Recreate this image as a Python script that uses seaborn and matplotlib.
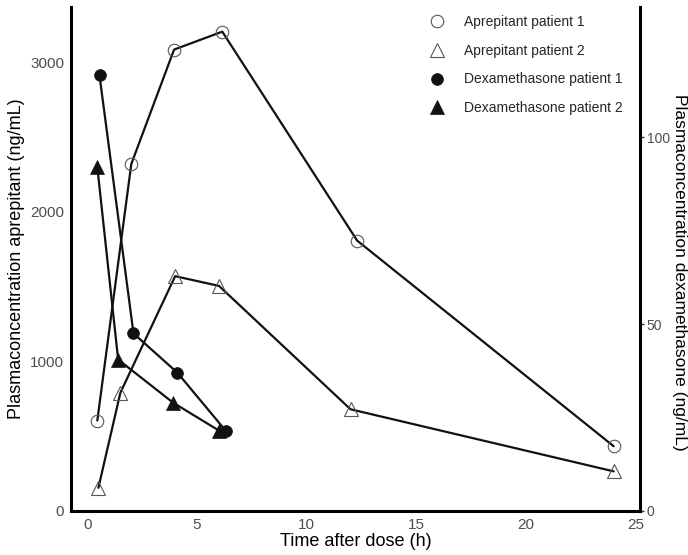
import matplotlib
matplotlib.use("Agg")
import matplotlib.pyplot as plt
from matplotlib.lines import Line2D
import seaborn as sns

sns.set_theme(style="white")
plt.rcParams["font.family"] = ["Liberation Sans", "DejaVu Sans"]

# Aprepitant plasma concentrations (ng/mL)
apr1_time = [0.45, 2.0, 3.95, 6.15, 12.3, 24.0]
apr1_conc = [605, 2320, 3085, 3205, 1808, 433]
apr2_time = [0.5, 1.5, 4.0, 6.0, 12.0, 24.0]
apr2_conc = [155, 790, 1570, 1505, 680, 265]

# Dexamethasone plasma concentrations (ng/mL), right axis
dex1_time = [0.55, 2.1, 4.1, 6.3]
dex1_conc = [116.5, 47.5, 37.0, 21.5]
dex2_time = [0.45, 1.4, 3.9, 6.0]
dex2_conc = [92.0, 40.5, 29.0, 21.5]

# Secondary axis scale factor (aprepitant units per dexamethasone unit)
SCALE = 25

labels = ["Aprepitant patient 1", "Aprepitant patient 2",
          "Dexamethasone patient 1", "Dexamethasone patient 2"]

fig = plt.figure(figsize=(6.88, 5.55), dpi=100)
ax = fig.add_axes([0.1032, 0.0793, 0.827, 0.9081])

series = [
    (apr1_time, apr1_conc, "o", "none", 9),
    (apr2_time, apr2_conc, "^", "none", 10),
    (dex1_time, [v * SCALE for v in dex1_conc], "o", "#111111", 8.5),
    (dex2_time, [v * SCALE for v in dex2_conc], "^", "#111111", 9.5),
]

handles = []
for (t, c, m, fc, ms), lab in zip(series, labels):
    ec = "#555555" if fc == "none" else "#111111"
    mew = 0.8 if fc == "none" else 0.5
    sns.lineplot(x=t, y=c, ax=ax, color="#111111", linewidth=1.6,
                 marker=m, markersize=ms, markerfacecolor=fc,
                 markeredgecolor=ec, markeredgewidth=mew,
                 legend=False, estimator=None, sort=False)
    handles.append(Line2D([], [], linestyle="none", marker=m, markersize=ms,
                          markerfacecolor=fc, markeredgecolor=ec,
                          markeredgewidth=mew))

ax.set_xlim(-0.75, 25.2)
ax.set_ylim(0, 3370)
ax.set_xticks([0, 5, 10, 15, 20, 25])
ax.set_yticks([0, 1000, 2000, 3000])

for side in ["top", "right"]:
    ax.spines[side].set_visible(False)
for side in ["left", "bottom"]:
    ax.spines[side].set_color("black")
    ax.spines[side].set_linewidth(2.2)

ax.tick_params(axis="both", which="both", length=3, width=1, color="#333333",
               labelcolor="#4d4d4d", labelsize=11, direction="out", pad=2)

ax.set_xlabel("Time after dose (h)", fontsize=13, color="black", labelpad=1)
ax.set_ylabel("Plasmaconcentration aprepitant (ng/mL)", fontsize=13,
              color="black", labelpad=4)

sec = ax.secondary_yaxis("right", functions=(lambda v: v / SCALE,
                                              lambda v: v * SCALE))
sec.set_yticks([0, 50, 100])
sec.spines["right"].set_color("black")
sec.spines["right"].set_linewidth(2.2)
sec.tick_params(axis="y", length=3, width=1, color="#333333",
                labelcolor="#4d4d4d", labelsize=10, pad=2)

# Right-hand axis title, placed just inside the figure edge
fig.text(679 / 688, 0.51, "Plasmaconcentration dexamethasone (ng/mL)",
         fontsize=12.5, color="black", rotation=270,
         ha="center", va="center")

ax.legend(handles, labels, loc="upper left", bbox_to_anchor=(0.605, 1.0),
          frameon=False, fontsize=10, handletextpad=0.9, labelspacing=1.05,
          borderaxespad=0.2)

fig.savefig("out.png", dpi=100)
